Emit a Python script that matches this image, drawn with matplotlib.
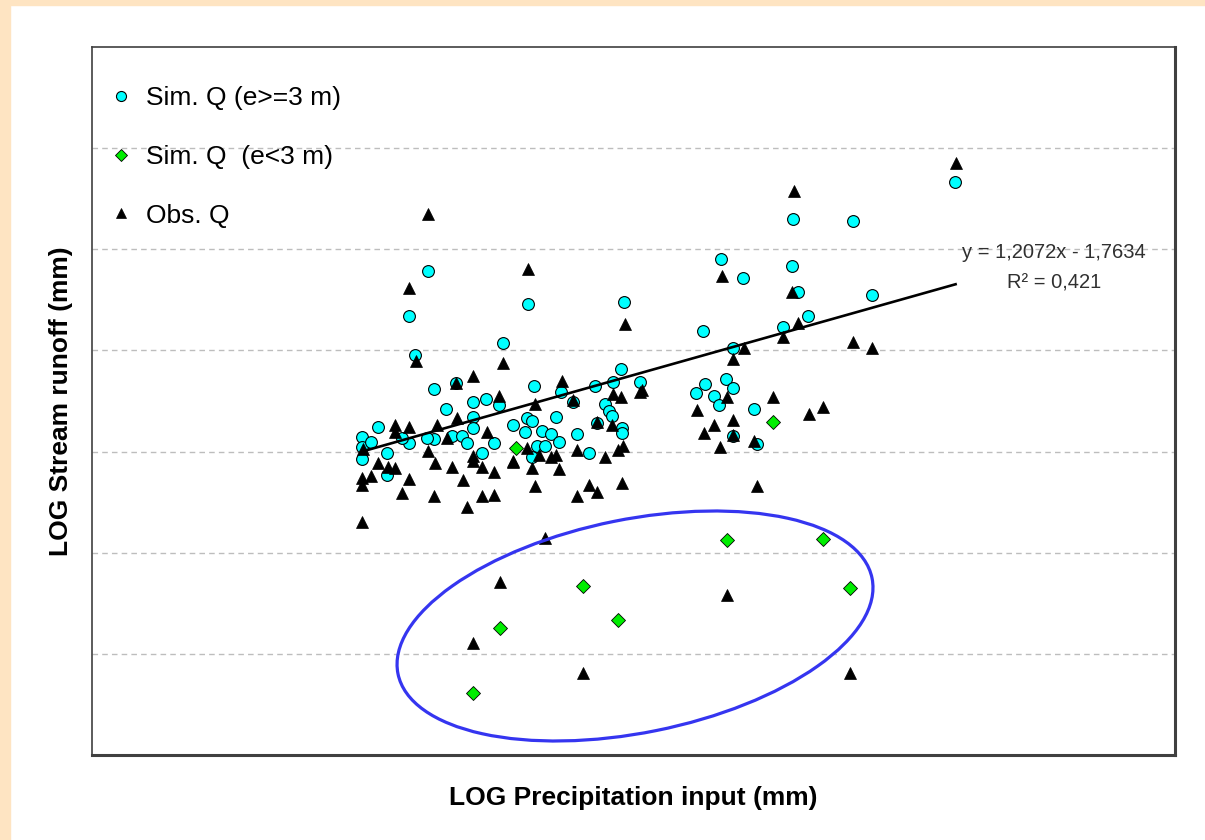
"""
LOG Stream runoff vs LOG Precipitation input
Sim. Q (e>=3 m), Sim. Q (e<3 m) e Obs. Q, com a reta de tendência
"""
import numpy as np
import matplotlib
matplotlib.use("Agg")
import matplotlib.pyplot as plt
from matplotlib.patches import Ellipse, Rectangle
from matplotlib.transforms import ScaledTranslation

plt.rcParams["font.family"] = ["Liberation Sans", "DejaVu Sans"]

# Sim. Q (e>=3 m)
sim_x = [3.0345, 3.0345, 3.0345, 3.0386, 3.0421, 3.0460, 3.0460, 3.0563, 3.0531, 3.0680,
         3.0680, 3.0646, 3.0734, 3.0780, 3.0760, 3.0809, 3.0830, 3.0857, 3.0917, 3.0980,
         3.0857, 3.0857, 3.0899, 3.0957, 3.1042, 3.0650, 3.0563, 3.0591, 3.1112, 3.1557,
         3.0999, 3.1142, 3.1265, 3.1319, 3.1422, 3.1507, 3.1541, 3.1630, 3.1110, 3.1133,
         3.1099, 3.1177, 3.1218, 3.1241, 3.1256, 3.1154, 3.1191, 3.1133, 3.1338, 3.1394,
         3.1468, 3.1488, 3.1499, 3.1548, 3.1548, 3.1430, 3.3084, 3.2338, 3.2612, 3.2004,
         3.2333, 3.2107, 3.2361, 3.2702, 3.2407, 3.2291, 3.1922, 3.2058, 3.1887, 3.1930,
         3.1971, 3.2025, 3.2061, 3.1996, 3.2156, 3.2058, 3.2169]
sim_y = [1.9294, 1.9091, 1.8847, 1.9195, 1.9480, 1.8966, 1.8537, 1.9164, 1.9269, 2.0232,
         1.9249, 1.9269, 1.9836, 2.0350, 1.9308, 1.9314, 1.9164, 1.9975, 2.0034, 1.9921,
         1.9690, 1.9460, 1.8966, 1.9176, 1.9526, 2.2571, 2.1687, 2.0910, 2.1918, 2.1952,
         2.1141, 2.0303, 2.0172, 1.9986, 2.0303, 2.0370, 2.0633, 2.0370, 1.9658, 1.9605,
         1.9393, 1.9413, 1.9342, 1.9690, 1.9195, 1.9110, 1.9110, 1.8899, 1.9342, 1.8966,
         1.9941, 1.9803, 1.9704, 1.9460, 1.9362, 1.9559, 2.4325, 2.3593, 2.3560, 2.2802,
         2.2676, 2.2427, 2.2162, 2.2096, 2.1687, 2.1458, 2.1390, 2.1042, 2.0156, 2.0336,
         2.0099, 2.0429, 2.0251, 1.9921, 1.9842, 1.9314, 1.9144]

# Sim. Q (e<3 m)
low_x = [3.2030, 3.2476, 3.1365, 3.2599, 3.0983, 3.1530, 3.0860, 3.2245, 3.1057]
low_y = [1.7252, 1.7271, 1.6342, 1.6308, 1.5517, 1.5670, 1.4232, 1.9591, 1.9065]

# Obs. Q
obs_x = [3.0345, 3.0345, 3.0345, 3.0386, 3.0421, 3.0468, 3.0499, 3.0499, 3.0499, 3.0563,
         3.0563, 3.0530, 3.0652, 3.0683, 3.0680, 3.0691, 3.0737, 3.0763, 3.0784, 3.0811,
         3.0830, 3.0860, 3.0860, 3.0860, 3.0902, 3.0902, 3.0922, 3.0957, 3.0957, 3.0980,
         3.1042, 3.0780, 3.0351, 3.0652, 3.0563, 3.0594, 3.1112, 3.1560, 3.0999, 3.1268,
         3.1145, 3.1319, 3.1507, 3.1541, 3.1630, 3.1430, 3.1499, 3.1045, 3.1107, 3.1165,
         3.1218, 3.1242, 3.1338, 3.1468, 3.1530, 3.1553, 3.1133, 3.1256, 3.1145, 3.1338,
         3.1396, 3.1433, 3.1548, 3.1191, 3.3087, 3.2341, 3.2007, 3.2333, 3.2361, 3.2291,
         3.2110, 3.2061, 3.2615, 3.2702, 3.1638, 3.1891, 3.2030, 3.2245, 3.2476, 3.2410,
         3.1971, 3.2061, 3.1927, 3.2058, 3.2157, 3.1999, 3.2169, 3.0983, 3.0860, 3.1365,
         3.2030, 3.2599]
obs_y = [1.8472, 1.8339, 1.7613, 1.8517, 1.8780, 1.8701, 1.8669, 1.9526, 1.9387, 1.9492,
         1.8452, 1.8175, 1.9012, 1.8780, 1.8122, 1.9526, 1.9263, 1.8701, 1.9658, 1.8438,
         1.7910, 2.0495, 1.8913, 1.8814, 1.8701, 1.8122, 1.9393, 1.8602, 1.8141, 2.0099,
         1.8820, 2.0350, 1.9051, 2.3692, 2.2229, 2.0797, 2.2611, 2.1523, 2.0758, 2.0402,
         1.9941, 2.0020, 2.0139, 2.0085, 2.0184, 1.9591, 1.9526, 1.8800, 1.9065, 1.8932,
         1.8899, 1.8932, 1.9031, 1.8887, 1.9031, 1.9110, 1.8669, 1.8650, 1.8319, 1.8122,
         1.8339, 1.8207, 1.8385, 1.7285, 2.4713, 2.4159, 2.2478, 2.2162, 2.1537, 2.1260,
         2.1042, 2.0825, 2.1173, 2.1042, 2.0218, 1.9822, 2.0085, 2.0073, 1.9888, 1.9737,
         1.9526, 1.9625, 1.9362, 1.9328, 1.9209, 1.9097, 1.8319, 1.6427, 1.5221, 1.4616,
         1.6164, 1.4616]

# reta de tendência (Excel)
slope, intercept = 1.2072, -1.7634
r2 = 0.421

fig = plt.figure(figsize=(12.05, 8.4), dpi=100)
fig.patch.set_facecolor("white")
bege = "#FEE4C2"
fig.patches.append(Rectangle((0, 0), 10 / 1205, 1, transform=fig.transFigure, color=bege, zorder=0))
fig.patches.append(Rectangle((0, 1 - 5 / 840), 1, 5 / 840, transform=fig.transFigure, color=bege, zorder=0))

ax = fig.add_axes([92 / 1205, 1 - 755 / 840, (1175 - 92) / 1205, (755 - 47) / 840])

ax.plot(low_x, low_y, "D", ms=6.8, mfc="#00EE00", mec="black", mew=0.6, zorder=3,
        label="Sim. Q  (e<3 m)")
ax.plot(sim_x, sim_y, "o", ms=8.5, mfc="#00FFFF", mec="black", mew=0.8, zorder=4,
        label="Sim. Q (e>=3 m)")
ax.plot(obs_x, obs_y, "^", ms=8.2, mfc="black", mec="black", mew=0.5, zorder=5,
        label="Obs. Q")

xall = np.array(obs_x + sim_x)
xt = np.array([xall.min(), xall.max()])
ax.plot(xt, slope * xt + intercept, color="black", linewidth=1.9, zorder=6)

ax.text(0.888, 0.7095, "y = 1,2072x - 1,7634", transform=ax.transAxes, ha="center", va="center",
        fontsize=14.5, color="#303030", zorder=7)
ax.text(0.888, 0.666, f"R² = {r2:.3f}".replace(".", ","), transform=ax.transAxes, ha="center",
        va="center", fontsize=14.5, color="#303030", zorder=7)

# elipse destacando os pontos com e<3 m
ell = Ellipse((0, 0), width=483.6, height=213.4, angle=11.4, fill=False,
              edgecolor="#3535F0", linewidth=2.3,
              transform=ScaledTranslation(3.1607, 1.5551, ax.transData), zorder=8)
ax.add_patch(ell)

ax.set_xlim(2.91, 3.41)
ax.set_ylim(1.3, 2.7)
ax.set_yticks([1.5, 1.7, 1.9, 2.1, 2.3, 2.5])
ax.set_xticks([])
ax.tick_params(axis="y", length=0, labelleft=False)
ax.grid(axis="y", color="#BDBDBD", linestyle=(0, (4, 3)), linewidth=1.0)
ax.set_axisbelow(True)

for lado in ["left", "top"]:
    ax.spines[lado].set_color("#404040")
    ax.spines[lado].set_linewidth(1.2)
for lado in ["right", "bottom"]:
    ax.spines[lado].set_color("#404040")
    ax.spines[lado].set_linewidth(2.2)

handles, labels = ax.get_legend_handles_labels()
ordem = [1, 0, 2]
ax.legend([handles[i] for i in ordem], [labels[i] for i in ordem], loc="upper left",
          bbox_to_anchor=(0.0148, 0.945), frameon=False, fontsize=19, labelspacing=1.32,
          handlelength=1.0, handletextpad=0.45, borderpad=0, borderaxespad=0, markerscale=0.85)

ax.set_xlabel("LOG Precipitation input (mm)", fontsize=19, fontweight="bold", labelpad=22)
ax.set_ylabel("LOG Stream runoff (mm)", fontsize=19, fontweight="bold", labelpad=14)

fig.savefig("out.png", dpi=100)
plt.close()
